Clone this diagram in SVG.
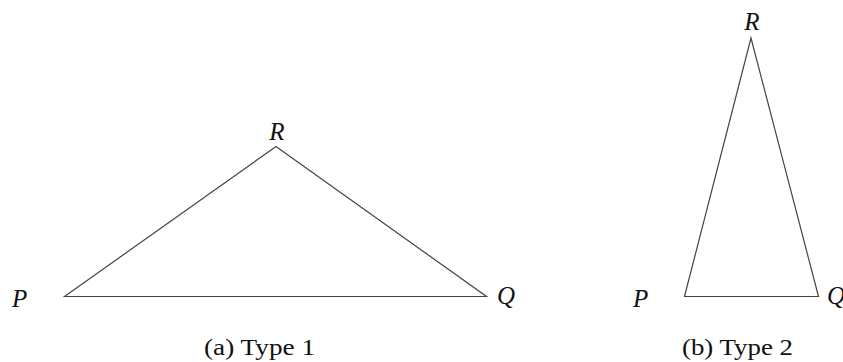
<svg xmlns="http://www.w3.org/2000/svg" width="843" height="362" viewBox="0 0 843 362">
<style>
.edge{fill:none;stroke:#444;stroke-width:1.2;stroke-linejoin:miter}
.lbl{font-family:"Liberation Serif","Times New Roman",serif;font-style:italic;font-size:25px;fill:#111}
.cap{font-family:"Liberation Serif","Times New Roman",serif;font-size:23px;fill:#111}
</style>
<rect width="843" height="362" fill="#fff"/>
<g id="type1">
<polygon class="edge" points="64.5,296.5 276,146.5 486.5,296.5"/>
<text class="lbl" x="277" y="139.5" text-anchor="middle">R</text>
<text class="lbl" x="12" y="307">P</text>
<text class="lbl" x="497" y="304">Q</text>
<text class="cap" x="204" y="355" textLength="111" lengthAdjust="spacingAndGlyphs">(a) Type 1</text>
</g>
<g id="type2">
<polygon class="edge" points="684.5,296.5 751,38 818.5,296.5"/>
<text class="lbl" x="752" y="29.5" text-anchor="middle">R</text>
<text class="lbl" x="633" y="307">P</text>
<text class="lbl" x="827" y="304">Q</text>
<text class="cap" x="682" y="355" textLength="111" lengthAdjust="spacingAndGlyphs">(b) Type 2</text>
</g>
</svg>
